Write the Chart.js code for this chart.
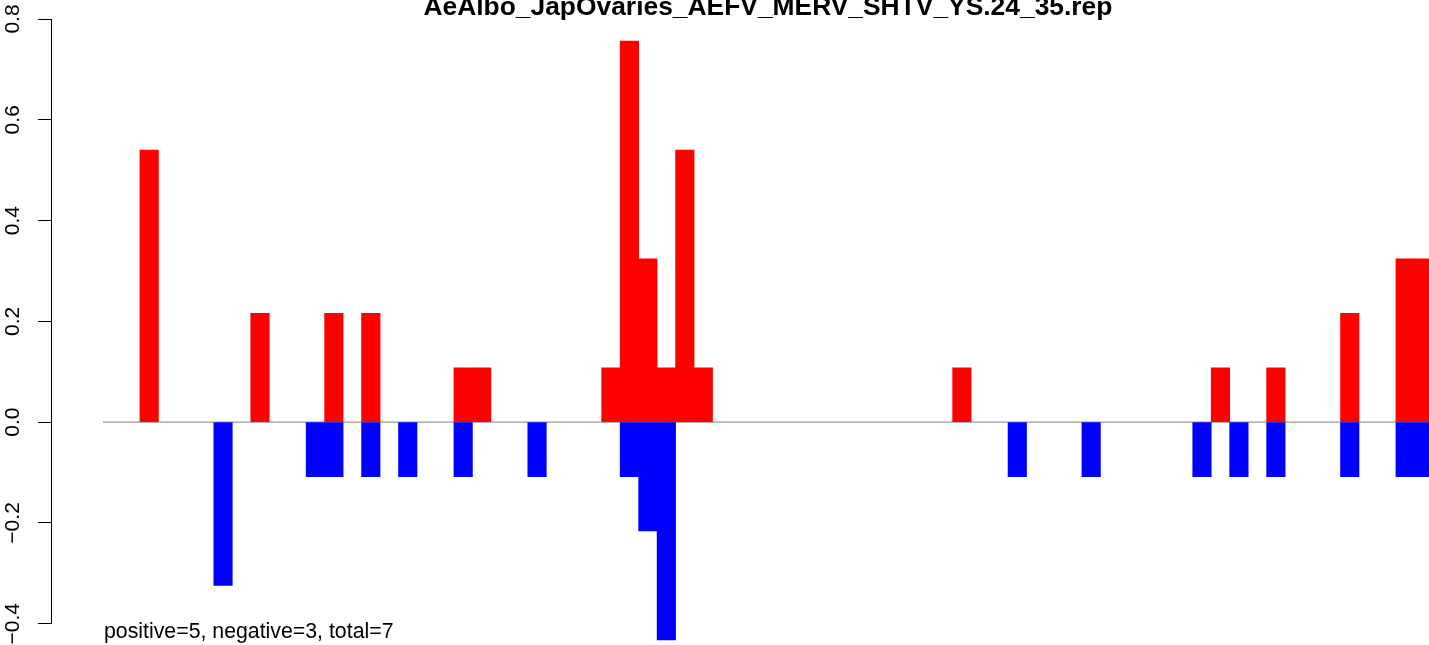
<!DOCTYPE html>
<html>
<head>
<meta charset="utf-8">
<title>AeAlbo_JapOvaries_AEFV_MERV_SHTV_YS.24_35.rep</title>
<script src="https://cdn.jsdelivr.net/npm/chart.js@4.4.1/dist/chart.umd.min.js"></script>
<style>
  html, body { margin: 0; padding: 0; background: #fff; overflow: hidden; }
  canvas { display: block; }
</style>
</head>
<body>
<canvas id="chart-rep" width="1429" height="645"></canvas>
<script>
'use strict';

const chartTitle = 'AeAlbo_JapOvaries_AEFV_MERV_SHTV_YS.24_35.rep';
const footNote   = 'positive=5, negative=3, total=7';

// one entry per bin (72 bins, the last one runs off the right edge)
const positive = [
  null, null, 0.54, null, null, null, null, null, 0.216, null, null, null,
  0.216, null, 0.216, null, null, null, null, 0.108, 0.108, null, null, null,
  null, null, null, 0.108, 0.756, 0.324, 0.108, 0.54, 0.108, null, null, null,
  null, null, null, null, null, null, null, null, null, null, 0.108, null,
  null, null, null, null, null, null, null, null, null, null, null, null,
  0.108, null, null, 0.108, null, null, null, 0.216, null, null, 0.324, 0.324
];
const negative = [
  null, null, null, null, null, null, -0.324, null, null, null, null, -0.108,
  -0.108, null, -0.108, null, -0.108, null, null, -0.108, null, null, null, -0.108,
  null, null, null, null, -0.108, -0.216, -0.432, null, null, null, null, null,
  null, null, null, null, null, null, null, null, null, null, null, null,
  null, -0.108, null, null, null, -0.108, null, null, null, null, null, -0.108,
  null, -0.108, null, -0.108, null, null, null, -0.108, null, null, -0.108, -0.108
];
const yTicks = [-0.4, -0.2, 0.0, 0.2, 0.4, 0.6, 0.8];

const binCount = positive.length;
const toPoints = arr => arr
  .map((v, i) => ({ x: i + 0.5, y: v }))
  .filter(p => p.y !== null);

const fmtTick = v => (v < 0 ? '\u2212' : '') + Math.abs(v).toFixed(1);

Chart.defaults.font.family = "'Liberation Sans', Arial, Helvetica, sans-serif";
Chart.defaults.color = '#000';

// R style texts: bold title over the bins, count note under the axis
const rTexts = {
  id: 'rTexts',
  afterDraw(chart) {
    const { ctx } = chart;
    const x = chart.scales.x;
    ctx.save();
    ctx.fillStyle = '#000';
    ctx.textBaseline = 'alphabetic';
    ctx.font = "bold 26.4px 'Liberation Sans', Arial, sans-serif";
    ctx.textAlign = 'center';
    ctx.fillText(chartTitle, x.getPixelForValue(binCount / 2), 15);
    ctx.font = "21.3px 'Liberation Sans', Arial, sans-serif";
    ctx.textAlign = 'left';
    ctx.fillText(footNote, x.getPixelForValue(0) + 1, 638);
    ctx.restore();
  }
};

new Chart(document.getElementById('chart-rep').getContext('2d'), {
  type: 'bar',
  data: {
    datasets: [
      {
        label: 'positive',
        data: toPoints(positive),
        backgroundColor: '#ff0000',
        borderWidth: 0,
        stack: 'bins',
        clip: false,
        order: 1
      },
      {
        label: 'negative',
        data: toPoints(negative),
        backgroundColor: '#0000ff',
        borderWidth: 0,
        stack: 'bins',
        clip: false,
        order: 1
      },
      {
        type: 'line',
        label: 'zero',
        data: [{ x: 0, y: 0 }, { x: binCount, y: 0 }],
        borderColor: '#999999',
        borderWidth: 1.4,
        pointRadius: 0,
        order: 2
      }
    ]
  },
  options: {
    responsive: false,
    devicePixelRatio: 1,
    animation: false,
    events: [],
    layout: { padding: { top: 19, bottom: 21.3, left: 0, right: 0 } },
    datasets: { bar: { barPercentage: 1, categoryPercentage: 1 } },
    plugins: {
      legend: { display: false },
      tooltip: { enabled: false },
      title: { display: false }
    },
    scales: {
      x: {
        type: 'linear',
        display: false,
        offset: false,
        grid: { offset: false },
        min: -2.815,
        max: 71.79,
        ticks: { stepSize: 10 }
      },
      y: {
        type: 'linear',
        position: 'left',
        stacked: true,
        min: -0.4,
        max: 0.8,
        afterBuildTicks: s => { s.ticks = yTicks.map(v => ({ value: v })); },
        afterFit: s => { s.width = 51; s.paddingTop = 0; s.paddingBottom = 0; },
        border: { display: true, color: '#000', width: 1 },
        grid: {
          display: true,
          drawOnChartArea: false,
          drawTicks: true,
          tickLength: 13,
          tickColor: '#000',
          tickWidth: 1
        },
        ticks: {
          callback: v => fmtTick(v),
          font: { size: 21 },
          color: '#000',
          minRotation: 90,
          maxRotation: 90,
          crossAlign: 'center',
          padding: 4
        }
      }
    }
  },
  plugins: [rTexts]
});
</script>
</body>
</html>
